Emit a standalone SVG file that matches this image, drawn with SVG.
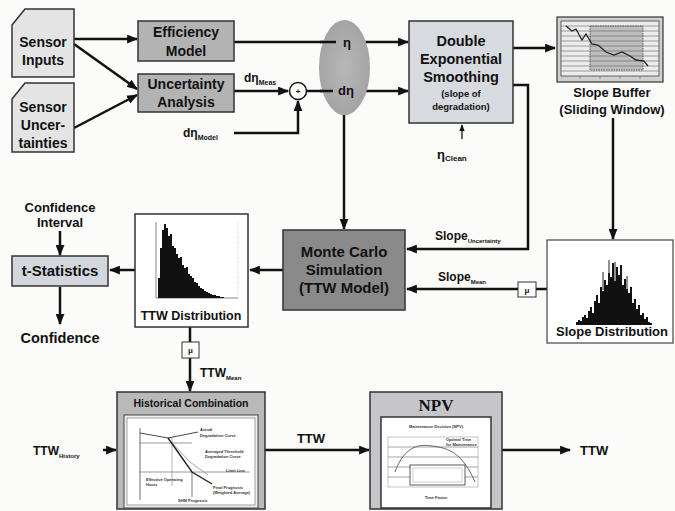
<svg xmlns="http://www.w3.org/2000/svg" width="675" height="511" viewBox="0 0 675 511">
<defs>
<style>
text{font-family:"Liberation Sans",Arial,sans-serif;font-weight:bold;fill:#111;}
.c{text-anchor:middle;}
.ln{fill:none;stroke:#111;stroke-width:2.5;}
.ar{fill:none;stroke:#111;stroke-width:2.5;marker-end:url(#ah);}
.thin{fill:none;stroke:#222;stroke-width:1;}
.box{stroke:#333;stroke-width:1.5;}
.tiny{font-size:4px;fill:#333;}
.grid{stroke:#666;stroke-width:0.6;}
</style>
<marker id="ah" viewBox="0 0 10 8" refX="9" refY="4" markerWidth="11" markerHeight="9" orient="auto" markerUnits="userSpaceOnUse"><path d="M0,0 L10,4 L0,8 Z" fill="#111"/></marker>
<marker id="sm" viewBox="0 0 10 8" refX="9" refY="4" markerWidth="7" markerHeight="6" orient="auto" markerUnits="userSpaceOnUse"><path d="M0,0 L10,4 L0,8 Z" fill="#111"/></marker>
<radialGradient id="eg" cx="0.5" cy="0.5" r="0.6"><stop offset="0" stop-color="#b8b8b8"/><stop offset="1" stop-color="#a0a0a0"/></radialGradient>
</defs>
<rect width="675" height="511" fill="#fbfbfa"/>

<g id="connectors">
<line class="ar" x1="74" y1="39" x2="137" y2="39"/>
<line class="ar" x1="74" y1="44" x2="137" y2="89"/>
<line class="ar" x1="74" y1="128" x2="137" y2="95"/>
<line class="ar" x1="234" y1="91" x2="288" y2="91"/>
<polyline class="ar" points="234,133 298,133 298,101"/>
<line class="ln" x1="234" y1="42" x2="336" y2="42"/>
<line class="ar" x1="357" y1="42" x2="408" y2="42"/>
<line class="ln" x1="307" y1="91" x2="333" y2="91"/>
<line class="ar" x1="359" y1="91" x2="408" y2="91"/>
<line class="ar" x1="513" y1="48" x2="555" y2="48"/>
<line x1="462" y1="139" x2="462" y2="125" stroke="#111" stroke-width="1.3" marker-end="url(#sm)"/>
<polyline class="ar" points="513,85 528,85 528,249 407,249"/>
<line class="ar" x1="613" y1="118" x2="613" y2="239"/>
<line class="ar" x1="344" y1="115" x2="344" y2="229"/>
<line class="ln" x1="536" y1="289" x2="547" y2="289"/>
<line class="ar" x1="518" y1="289" x2="407" y2="289"/>
<line class="ar" x1="283" y1="270" x2="250" y2="270"/>
<line class="ar" x1="135" y1="270" x2="110" y2="270"/>
<line class="ar" x1="60" y1="231" x2="60" y2="255"/>
<line class="ar" x1="60" y1="287" x2="60" y2="324"/>
<line class="ln" x1="190" y1="327" x2="190" y2="342"/>
<line class="ar" x1="190" y1="358" x2="190" y2="391"/>
<line class="ar" x1="103" y1="450" x2="116" y2="450"/>
<line class="ar" x1="265" y1="450" x2="369" y2="450"/>
<line class="ar" x1="502" y1="450" x2="570" y2="450"/>
</g>

<g id="sensor-inputs">
<path class="box" d="M12,25 L25,9 L74,9 L74,77 L12,77 Z" fill="#e4e4e4"/>
<text class="c" x="43" y="47" font-size="14">Sensor</text>
<text class="c" x="43" y="65" font-size="14">Inputs</text>
</g>
<g id="sensor-uncertainties">
<path class="box" d="M12,99 L25,83 L74,83 L74,152 L12,152 Z" fill="#e4e4e4"/>
<text class="c" x="43" y="112" font-size="14">Sensor</text>
<text class="c" x="43" y="130" font-size="14">Uncer-</text>
<text class="c" x="43" y="148" font-size="14">tainties</text>
</g>
<g id="efficiency-model">
<rect class="box" x="138" y="21" width="96" height="40" fill="#b3b3b3"/>
<text class="c" x="186" y="37" font-size="14">Efficiency</text>
<text class="c" x="186" y="56" font-size="14">Model</text>
</g>
<g id="uncertainty-analysis">
<rect class="box" x="138" y="74" width="96" height="38" fill="#b3b3b3"/>
<text class="c" x="186" y="89" font-size="14">Uncertainty</text>
<text class="c" x="186" y="107" font-size="14">Analysis</text>
</g>
<g id="labels-d-eta">
<text x="244" y="82" font-size="12">dη<tspan font-size="7" dy="3">Meas</tspan></text>
<text x="183" y="137" font-size="12">dη<tspan font-size="7" dy="3">Model</tspan></text>
</g>
<g id="sum">
<circle cx="298" cy="91" r="8.5" fill="#fff" stroke="#111" stroke-width="1.5"/>
<text class="c" x="298" y="94" font-size="8">+</text>
</g>
<g id="ellipse">
<ellipse cx="344.5" cy="67.5" rx="25.5" ry="47.5" fill="url(#eg)"/>
<line class="ln" x1="320" y1="42" x2="336" y2="42"/>
<line class="ln" x1="320" y1="91" x2="333" y2="91"/>
<text class="c" x="347" y="47" font-size="13">η</text>
<text class="c" x="346" y="95" font-size="13">dη</text>
</g>
<g id="double-exponential-smoothing">
<rect class="box" x="409" y="21" width="104" height="102" fill="#d7dadf"/>
<text class="c" x="461" y="46" font-size="14.5">Double</text>
<text class="c" x="461" y="64" font-size="14.5">Exponential</text>
<text class="c" x="461" y="82" font-size="14.5">Smoothing</text>
<text class="c" x="461" y="97" font-size="9.5" fill="#333">(slope of</text>
<text class="c" x="461" y="110" font-size="9.5" fill="#333">degradation)</text>
</g>
<g id="eta-clean">
<text x="437" y="159" font-size="13" font-weight="normal">η<tspan font-size="8" font-weight="bold" dy="2">Clean</tspan></text>
</g>
<g id="slope-buffer">
<rect x="557" y="17" width="106" height="65" fill="#cfcfcf" stroke="#333" stroke-width="1.2"/>
<rect x="561" y="21" width="98" height="55" fill="#ececec" stroke="#444" stroke-width="0.8"/>
<rect x="590" y="26" width="53" height="44" fill="#bdbdbd" stroke="#444" stroke-width="0.8" stroke-dasharray="1.5,1"/>
<g class="grid">
<line x1="561" y1="26" x2="659" y2="26"/><line x1="561" y1="31" x2="659" y2="31"/><line x1="561" y1="36" x2="659" y2="36"/><line x1="561" y1="41" x2="659" y2="41"/><line x1="561" y1="46" x2="659" y2="46"/><line x1="561" y1="51" x2="659" y2="51"/><line x1="561" y1="56" x2="659" y2="56"/><line x1="561" y1="61" x2="659" y2="61"/><line x1="561" y1="66" x2="659" y2="66"/><line x1="561" y1="71" x2="659" y2="71"/>
<line x1="580" y1="76" x2="580" y2="79"/><line x1="600" y1="76" x2="600" y2="79"/><line x1="620" y1="76" x2="620" y2="79"/><line x1="640" y1="76" x2="640" y2="79"/>
</g>
<polyline points="566,26 572,31 576,29 582,40 586,34 592,44 598,45 606,52 614,55 622,52 630,56 636,60 644,61 648,66" fill="none" stroke="#222" stroke-width="1.3"/>
<text class="c" x="612" y="97" font-size="13">Slope Buffer</text>
<text class="c" x="612" y="114" font-size="13">(Sliding Window)</text>
</g>
<g id="monte-carlo">
<rect class="box" x="283" y="230" width="122" height="80" fill="#8a8a8a"/>
<text class="c" x="344" y="257" font-size="15">Monte Carlo</text>
<text class="c" x="344" y="275" font-size="15">Simulation</text>
<text class="c" x="344" y="293" font-size="15">(TTW Model)</text>
</g>
<g id="slope-labels">
<text x="435" y="240" font-size="12">Slope<tspan font-size="6" dy="3">Uncertainty</tspan></text>
<text x="438" y="281" font-size="12">Slope<tspan font-size="6" dy="3">Mean</tspan></text>
</g>
<g id="mu-slope">
<rect x="518" y="282" width="18" height="15" fill="#fff" stroke="#333" stroke-width="1"/>
<text class="c" x="527" y="293" font-size="8" font-weight="normal">μ</text>
</g>
<g id="slope-distribution">
<rect x="547" y="240" width="126" height="103" fill="#fff" stroke="#444" stroke-width="1.2"/>
<path d="M576,325 V322 H578 V320 H580 V321 H582 V317 H584 V315 H586 V318 H588 V311 H590 V307 H592 V313 H594 V301 H596 V295 H598 V303 H600 V287 H602 V291 H604 V280 H606 V285 H608 V273 H610 V277 H612 V263 H614 V281 H616 V267 H618 V275 H620 V265 H622 V285 H624 V279 H626 V289 H628 V293 H630 V287 H632 V303 H634 V299 H636 V309 H638 V305 H640 V315 H642 V313 H644 V319 H646 V317 H648 V322 H650 V323 H652 V325 Z" fill="#111"/>
<g stroke="#222" stroke-width="1"><line x1="609" y1="282" x2="609" y2="260"/><line x1="615" y1="282" x2="615" y2="262"/><line x1="621" y1="282" x2="621" y2="266"/><line x1="603" y1="290" x2="603" y2="272"/><line x1="627" y1="292" x2="627" y2="276"/></g>
<text class="c" x="612" y="336" font-size="13">Slope Distribution</text>
</g>
<g id="ttw-distribution">
<rect x="135" y="214" width="113" height="113" fill="#fff" stroke="#333" stroke-width="1.5"/>
<line x1="156" y1="222" x2="156" y2="298" stroke="#555" stroke-width="0.7"/>
<line x1="156" y1="298" x2="238" y2="298" stroke="#555" stroke-width="0.7"/>
<line x1="238" y1="222" x2="238" y2="298" stroke="#aaa" stroke-width="0.6" stroke-dasharray="1,1.5"/>
<path d="M158,298 V278 H160 V248 H162 V230 H164 V224 H166 V228 H168 V236 H170 V234 H172 V246 H174 V248 H176 V254 H178 V258 H180 V257 H182 V265 H184 V268 H186 V267 H188 V274 H190 V276 H192 V278 H194 V282 H196 V283 H198 V286 H200 V288 H202 V289 H204 V291 H206 V292 H208 V293 H210 V294 H212 V295 H214 V295 H216 V296 H218 V296 H220 V297 H224 V298 Z" fill="#111"/>
<text class="c" x="191" y="320" font-size="12.5">TTW Distribution</text>
</g>
<g id="t-statistics">
<rect class="box" x="12" y="256" width="96" height="30" fill="#d3d7dd"/>
<text class="c" x="60" y="276" font-size="15">t-Statistics</text>
</g>
<g id="confidence-interval">
<text class="c" x="60" y="212" font-size="13">Confidence</text>
<text class="c" x="60" y="227" font-size="13">Interval</text>
</g>
<g id="confidence">
<text class="c" x="60" y="343" font-size="14.5">Confidence</text>
</g>
<g id="mu-ttw">
<rect x="182" y="342" width="17" height="16" fill="#fff" stroke="#333" stroke-width="1"/>
<text class="c" x="190.5" y="353" font-size="8" font-weight="normal">μ</text>
</g>
<g id="ttw-mean">
<text x="200" y="377" font-size="12">TTW<tspan font-size="6" dy="3">Mean</tspan></text>
</g>
<g id="ttw-history">
<text x="33" y="455" font-size="12">TTW<tspan font-size="6" dy="3">History</tspan></text>
</g>
<g id="historical-combination">
<rect class="box" x="117" y="392" width="148" height="117" fill="#b9b9b9"/>
<text class="c" x="191" y="407" font-size="10.5" fill="#444">Historical Combination</text>
<rect x="124" y="415" width="134" height="93" fill="#eee" stroke="#444" stroke-width="1"/>
<rect x="127" y="418" width="128" height="87" fill="#fff" stroke="#666" stroke-width="0.6"/>
<line x1="140" y1="428" x2="140" y2="500" stroke="#444" stroke-width="0.8"/>
<line x1="140" y1="443" x2="192" y2="443" stroke="#555" stroke-width="0.6"/>
<line x1="140" y1="472" x2="250" y2="472" stroke="#555" stroke-width="0.6"/>
<line x1="172" y1="438" x2="172" y2="486" stroke="#666" stroke-width="0.5"/>
<line x1="192" y1="472" x2="192" y2="497" stroke="#444" stroke-width="0.7"/>
<polyline points="140,433 168,438 198,432" fill="none" stroke="#333" stroke-width="0.9"/>
<polyline points="172,443 190,462 208,475" fill="none" stroke="#999" stroke-width="0.9"/>
<polyline points="168,438 192,472 212,484" fill="none" stroke="#222" stroke-width="1.4"/>
<text class="tiny" x="200" y="431">Actual</text>
<text class="tiny" x="200" y="437">Degradation Curve</text>
<text class="tiny" x="205" y="453">Averaged Threshold</text>
<text class="tiny" x="205" y="458">Degradation Curve</text>
<text class="tiny" x="226" y="472">Limit Line</text>
<text class="tiny" x="146" y="481">Effective Operating</text>
<text class="tiny" x="146" y="486">Hours</text>
<text class="tiny" x="213" y="489">Final Prognosis</text>
<text class="tiny" x="213" y="494">(Weighted Average)</text>
<text class="tiny" x="178" y="502">SHM Prognosis</text>
</g>
<g id="ttw-label">
<text class="c" x="311" y="443" font-size="13">TTW</text>
</g>
<g id="npv">
<rect class="box" x="370" y="392" width="132" height="117" fill="#c6c6ca"/>
<text class="c" x="436" y="411" font-size="17" style="font-family:'Liberation Serif',serif">NPV</text>
<rect x="381" y="417" width="110" height="91" fill="#fff" stroke="#333" stroke-width="1.5"/>
<text class="c tiny" x="436" y="428">Maintenance Decision (NPV)</text>
<rect x="388" y="437" width="90" height="50" fill="none" stroke="#888" stroke-width="0.5"/>
<g class="grid"><line x1="388" y1="447" x2="478" y2="447"/><line x1="388" y1="457" x2="478" y2="457"/><line x1="388" y1="467" x2="478" y2="467"/><line x1="388" y1="477" x2="478" y2="477"/></g>
<path d="M395,472 C405,445 420,444 432,446 C448,448 462,452 475,482" fill="none" stroke="#555" stroke-width="0.9"/>
<rect x="410" y="465" width="55" height="20" fill="#fff" stroke="#333" stroke-width="0.8"/>
<rect x="413" y="468" width="49" height="14" fill="none" stroke="#888" stroke-width="0.4"/>
<text class="tiny" x="446" y="441">Optimal Time</text>
<text class="tiny" x="446" y="446">for Maintenance</text>
<text class="c tiny" x="436" y="499">Time Factor</text>
</g>
<g id="ttw-out">
<text x="580" y="455" font-size="13">TTW</text>
</g>
</svg>
